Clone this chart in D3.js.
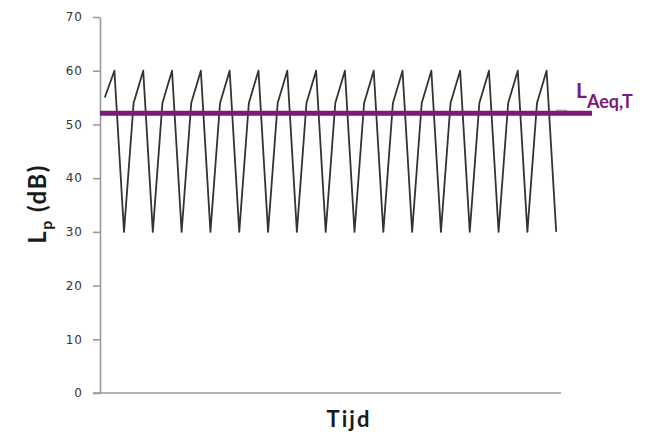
<!DOCTYPE html>
<html>
<head>
<meta charset="utf-8">
<script src="https://cdn.jsdelivr.net/npm/d3@7"></script>
<style>
  body { margin: 0; background: #fff; }
  svg { display: block; }
</style>
</head>
<body>
<svg id="chart" width="648" height="435"></svg>
<script>
// sound level samples (dB), one per time step
const levels = [
  55, 60, 30, 54, 60, 30, 54, 60, 30, 54, 60, 30,
  54, 60, 30, 54, 60, 30, 54, 60, 30, 54, 60, 30,
  54, 60, 30, 54, 60, 30, 54, 60, 30, 54, 60, 30,
  54, 60, 30, 54, 60, 30, 54, 60, 30, 54, 60, 30
];
const steps = levels.map(function (d, i) { return i; });
const yTicks = [0, 10, 20, 30, 40, 50, 60, 70];
const laeq = 52.1;

const svg = d3.select("#chart");
const purple = "#7b1a78";

const x = d3.scalePoint()
    .domain(steps)
    .range([100, 561])
    .padding(0.5);

const y = d3.scaleLinear()
    .domain([0, 70])
    .range([393, 17]);

// y axis
const gY = svg.append("g")
    .attr("transform", "translate(100,0)")
    .call(d3.axisLeft(y).tickValues(yTicks).tickSize(7).tickPadding(10).tickSizeOuter(0));

gY.select(".domain").attr("stroke", "#9a9a9a").attr("stroke-width", 1.6);
gY.selectAll(".tick line").attr("stroke", "#9a9a9a").attr("stroke-width", 1.6);
gY.selectAll(".tick text")
    .attr("fill", "#333")
    .attr("font-family", "DejaVu Sans, sans-serif")
    .attr("font-size", "12")
    .attr("letter-spacing", "1");

// x axis line
svg.append("line")
    .attr("x1", 93)
    .attr("x2", 561)
    .attr("y1", y(0))
    .attr("y2", y(0))
    .attr("stroke", "#9a9a9a")
    .attr("stroke-width", 1.6);

// level trace
const line = d3.line()
    .x(function (d, i) { return x(steps[i]); })
    .y(function (d) { return y(d); });

svg.append("path")
    .datum(levels)
    .attr("d", line)
    .attr("fill", "none")
    .attr("stroke", "#333")
    .attr("stroke-width", 1.8)
    .attr("stroke-linejoin", "round");

// short grey stub just above the LAeq line end
svg.append("line")
    .attr("x1", 556)
    .attr("x2", 567)
    .attr("y1", y(laeq) - 3)
    .attr("y2", y(laeq) - 3)
    .attr("stroke", "#999")
    .attr("stroke-width", 1);

// LAeq,T line
svg.append("line")
    .attr("x1", 100)
    .attr("x2", 592)
    .attr("y1", y(laeq))
    .attr("y2", y(laeq))
    .attr("stroke", purple)
    .attr("stroke-width", 5);

const lab = svg.append("text")
    .attr("x", 576)
    .attr("y", 98)
    .attr("fill", purple)
    .attr("font-family", "Lato, Open Sans, sans-serif")
    .attr("font-weight", "bold")
    .attr("font-size", "21");
lab.append("tspan").text("L");
lab.append("tspan")
    .attr("font-size", "18")
    .attr("dy", "10")
    .text("Aeq,T");

// axis titles
const yt = svg.append("text")
    .attr("transform", "translate(46,204) rotate(-90)")
    .attr("text-anchor", "middle")
    .attr("fill", "#1a1a1a")
    .attr("font-family", "Lato, Open Sans, sans-serif")
    .attr("font-weight", "bold")
    .attr("font-size", "24")
    .attr("letter-spacing", "1.5");
yt.append("tspan").text("L");
yt.append("tspan").attr("font-size", "16").attr("dy", "6").text("p");
yt.append("tspan").attr("dy", "-6").text(" (dB)");

svg.append("text")
    .attr("x", 349)
    .attr("y", 427)
    .attr("text-anchor", "middle")
    .attr("fill", "#1a1a1a")
    .attr("font-family", "Lato, Open Sans, sans-serif")
    .attr("font-weight", "bold")
    .attr("font-size", "22")
    .attr("letter-spacing", "2")
    .text("Tijd");
</script>
</body>
</html>
